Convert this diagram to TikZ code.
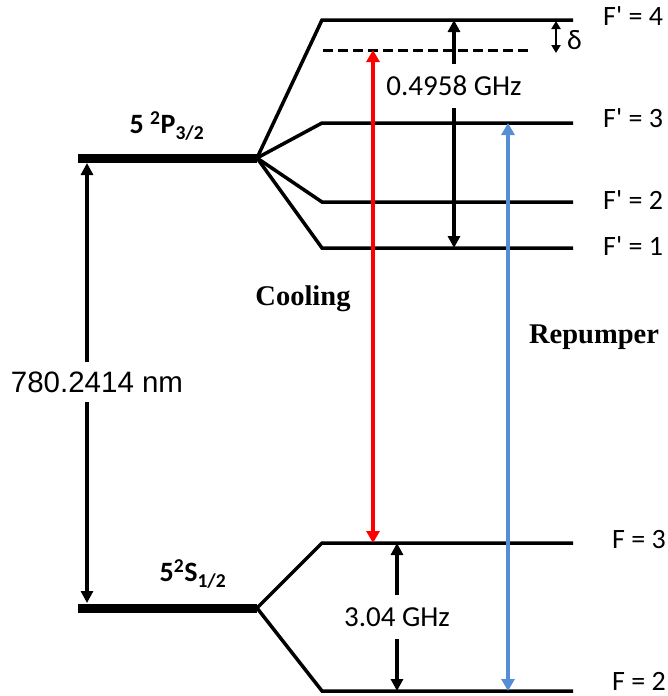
\documentclass[tikz,border=0pt]{standalone}
\usepackage{fontspec}
\setmainfont{Carlito}
\newfontfamily\arialf{Liberation Sans}
\newfontfamily\timesf{Liberation Serif}
\usetikzlibrary{arrows.meta,positioning,calc}
\definecolor{repkek}{RGB}{85,142,213}
\newcommand\vesszo{\textquotesingle}
\tikzset{
  szint/.style={line width=3.5pt},
  alap/.style={line width=9pt},
  nyil/.style={line width=3.5pt,-{Triangle[length=12pt,width=12pt]}},
  kettos/.style={line width=3.5pt,{Triangle[length=12pt,width=13pt]}-{Triangle[length=12pt,width=13pt]}},
  cimke/.style={inner sep=0pt,font=\fontsize{28}{34}\selectfont},
  res/.style={cimke,font=\fontsize{29}{34}\selectfont,inner xsep=1pt,inner ysep=12pt},
  allapot/.style={cimke,font=\fontsize{28}{34}\selectfont\bfseries},
  nev/.style={inner sep=1pt,font=\fontsize{28.5}{32}\selectfont\timesf\bfseries},
}

\begin{document}
\begin{tikzpicture}[x=1pt,y=-1pt]
  \useasboundingbox (0,0) rectangle (667,696);
  % branch points and level corners
  \coordinate (P) at (257,158);
  \coordinate (S) at (257,608);
  \coordinate (f4) at (322,20);
  \coordinate (f3) at (322,123);
  \coordinate (f2) at (322,202);
  \coordinate (f1) at (322,248);
  \coordinate (s3) at (322,543);
  \coordinate (s2) at (322,691);
  \coordinate (det) at (323,50);
  \coordinate (cool) at (373,50);
  \coordinate (rep) at (508,123);
  % fine structure levels
  \draw[alap] (78,158) -- (P);
  \draw[alap] (78,608) -- (S);
  \foreach \f in {f4,f3,f2,f1} {
    \draw[szint] (P) -- (\f) -- ++(251,0);
  }
  \foreach \f in {s3,s2} {
    \draw[szint] (S) -- (\f) -- ++(251,0);
  }
  \draw[line width=3pt,dash pattern=on 10pt off 5pt] (det) -- ++(209,0);
  % labels of levels
  \node[allapot] (p32) at (167,126) {5 \textsuperscript{2}P\textsubscript{3/2}};
  \node[allapot] (s12) at (193,574) {5\textsuperscript{2}S\textsubscript{1/2}};
  \node[cimke,anchor=west] (l4) at (603,16) {F\vesszo{} = 4};
  \node[cimke,anchor=west] (l3) at (603,118) {F\vesszo{} = 3};
  \node[cimke,anchor=west] (l2) at (603,200) {F\vesszo{} = 2};
  \node[cimke,anchor=west] (l1) at (603,246) {F\vesszo{} = 1};
  \node[cimke,anchor=west] (k3) at (612,540) {F = 3};
  \node[cimke,anchor=west] (k2) at (612,681) {F = 2};
  % splittings
  \node[res] (hfp) at (454,86) {0.4958 GHz};
  \draw[nyil] (hfp.north) -- (hfp.north |- f4);
  \draw[nyil] (hfp.south) -- (hfp.south |- f1);
  \node[res] (hfs) at (397,617) {3.04 GHz};
  \draw[nyil] (hfs.north) -- (hfs.north |- s3);
  \draw[nyil] (hfs.south) -- (hfs.south |- s2);
  \node[inner xsep=1pt,inner ysep=9.5pt,font=\fontsize{29.5}{34}\selectfont\arialf] (nm) at (97,382) {780.2414 nm};
  \draw[nyil,shorten >=5pt] ([xshift=-10pt]nm.north) -- ([xshift=-10pt]nm.north |- P);
  \draw[nyil,shorten >=5pt] ([xshift=-10pt]nm.south) -- ([xshift=-10pt]nm.south |- S);
  % detuning
  \coordinate (d1) at (556,21);
  \draw[line width=2.5pt,{Triangle[length=8pt,width=9pt]}-{Triangle[length=8pt,width=9pt]}] (d1) -- (d1 |- 0,53);
  \node[cimke,anchor=west] (delta) at (567,40) {δ};
  % lasers
  \draw[kettos,red] (cool) -- (cool |- s3);
  \draw[kettos,repkek] (rep) -- (rep |- s2);
  \node[nev] (hut) at (303,299) {Cooling};
  \node[nev] (pump) at (594,337) {Repumper};
\end{tikzpicture}
\end{document}
